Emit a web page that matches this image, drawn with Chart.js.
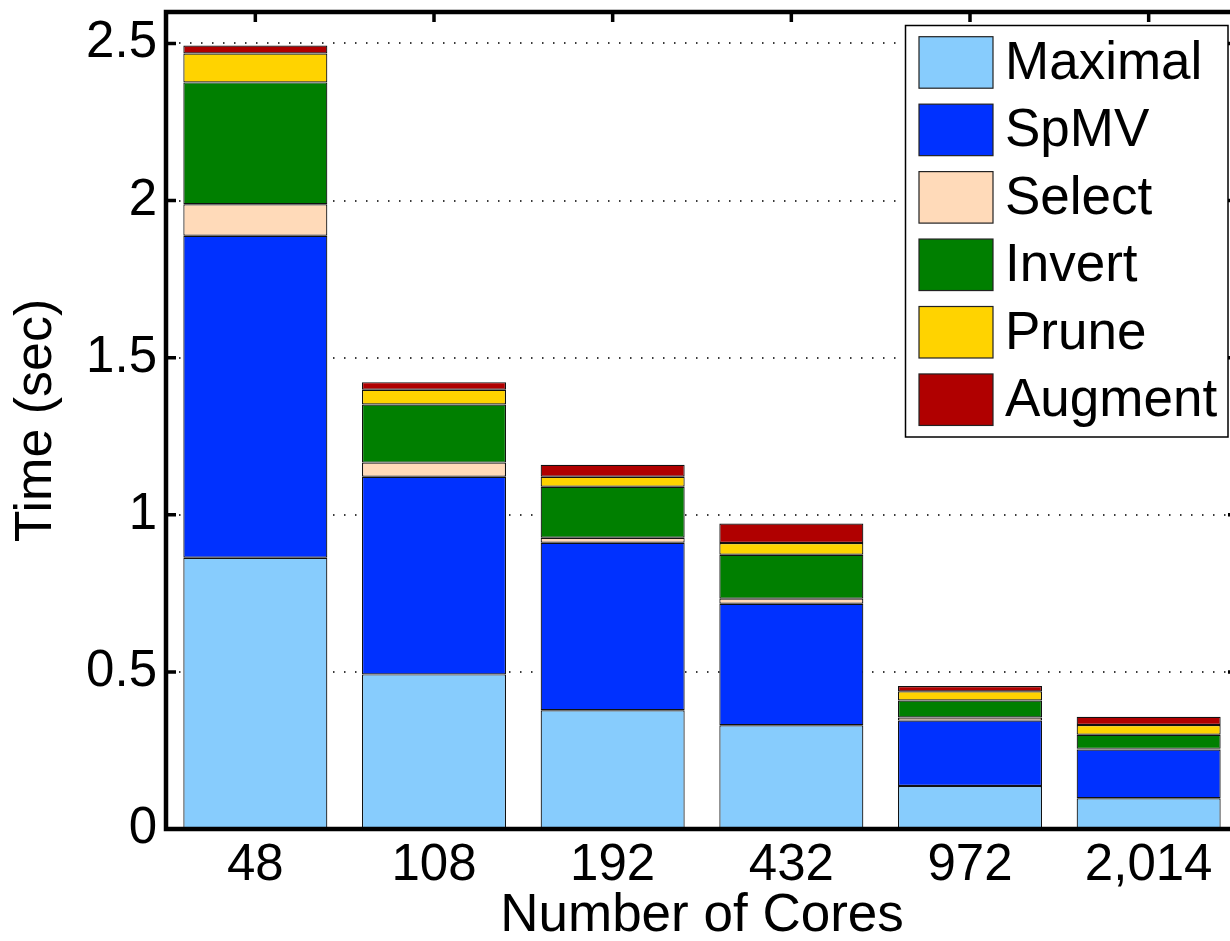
<!DOCTYPE html>
<html>
<head>
<meta charset="utf-8">
<script src="https://cdn.jsdelivr.net/npm/chart.js@4.4.1/dist/chart.umd.min.js"></script>
<style>
  html, body { margin: 0; padding: 0; background: #ffffff; overflow: hidden; }
  #wrap { width: 1250px; height: 941px; }
</style>
</head>
<body>
<div id="wrap"><canvas id="c" width="1250" height="941"></canvas></div>
<script>
// Number of cores on the x axis
const categories = ['48', '108', '192', '432', '972', '2,014'];

// Time per phase, in seconds
const maximal = [0.863, 0.492, 0.378, 0.330, 0.137, 0.098];
const spmv    = [1.025, 0.629, 0.533, 0.387, 0.208, 0.155];
const select  = [0.100, 0.045, 0.016, 0.016, 0.010, 0.002];
const invert  = [0.388, 0.185, 0.162, 0.140, 0.054, 0.045];
const prune   = [0.092, 0.047, 0.032, 0.037, 0.029, 0.031];
const augment = [0.025, 0.024, 0.038, 0.062, 0.017, 0.026];

const yTicks = [0, 0.5, 1, 1.5, 2, 2.5];
const yTickLabels = ['0', '0.5', '1', '1.5', '2', '2.5'];

const FONT = "'Liberation Sans', Arial, Helvetica, sans-serif";

const series = [
  { label: 'Maximal', data: maximal, color: '#87CCFD' },
  { label: 'SpMV',    data: spmv,    color: '#0031FF' },
  { label: 'Select',  data: select,  color: '#FFDAB9' },
  { label: 'Invert',  data: invert,  color: '#007F00' },
  { label: 'Prune',   data: prune,   color: '#FFD300' },
  { label: 'Augment', data: augment, color: '#B00000' }
];

// Dotted grid, inward tick marks, heavy frame and boxed legend
const decorations = {
  id: 'decorations',
  beforeDatasetsDraw(chart) {
    const { ctx, chartArea: a, scales } = chart;
    const y = scales.y, x = scales.x;
    ctx.save();
    // dotted horizontal grid lines
    ctx.strokeStyle = '#3a3a3a';
    ctx.lineWidth = 2;
    ctx.setLineDash([1.5, 9.5]);
    yTicks.forEach(v => {
      if (v === 0) return;
      const py = Math.round(y.getPixelForValue(v));
      ctx.beginPath();
      ctx.moveTo(a.left + 2, py);
      ctx.lineTo(a.right, py);
      ctx.stroke();
    });
    ctx.setLineDash([]);
    // tick marks pointing into the plot
    ctx.strokeStyle = '#000';
    ctx.lineWidth = 3.5;
    const tl = 10;
    yTicks.forEach(v => {
      const py = y.getPixelForValue(v);
      ctx.beginPath();
      ctx.moveTo(a.left, py); ctx.lineTo(a.left + tl, py);
      ctx.moveTo(a.right, py); ctx.lineTo(a.right - tl, py);
      ctx.stroke();
    });
    categories.forEach((c, i) => {
      const px = x.getPixelForValue(i);
      ctx.beginPath();
      ctx.moveTo(px, a.top); ctx.lineTo(px, a.top + tl);
      ctx.moveTo(px, a.bottom); ctx.lineTo(px, a.bottom - tl);
      ctx.stroke();
    });
    ctx.restore();
  },
  afterDatasetsDraw(chart) {
    const { ctx, chartArea: a } = chart;
    ctx.save();
    ctx.strokeStyle = '#000';
    ctx.lineWidth = 4.5;
    ctx.strokeRect(a.left, a.top, a.right - a.left, a.bottom - a.top);
    ctx.restore();
  },
  afterDraw(chart) {
    const { ctx } = chart;
    const box = { x: 905.5, y: 25.5, w: 322.5, h: 411.5 };
    ctx.save();
    ctx.fillStyle = '#fff';
    ctx.fillRect(box.x, box.y, box.w, box.h);
    ctx.strokeStyle = '#000';
    ctx.lineWidth = 1.5;
    ctx.strokeRect(box.x, box.y, box.w, box.h);
    ctx.font = '53px ' + FONT;
    ctx.textBaseline = 'middle';
    ctx.textAlign = 'left';
    chart.data.datasets.forEach((ds, i) => {
      const sy = 36.7 + i * 67.45;
      ctx.fillStyle = ds.backgroundColor;
      ctx.fillRect(919, sy, 74, 51.5);
      ctx.lineWidth = 1.2;
      ctx.strokeStyle = '#222';
      ctx.strokeRect(919, sy, 74, 51.5);
      ctx.fillStyle = '#000';
      ctx.fillText(ds.label, 1005, sy + 27.5);
    });
    ctx.restore();
  }
};

new Chart(document.getElementById('c'), {
  type: 'bar',
  data: {
    labels: categories,
    datasets: series.map(s => ({
      label: s.label,
      data: s.data,
      backgroundColor: s.color,
      borderColor: '#111',
      borderWidth: 1.2,
      borderSkipped: false,
      categoryPercentage: 1.0,
      barPercentage: 0.806
    }))
  },
  options: {
    responsive: false,
    animation: false,
    devicePixelRatio: 1,
    layout: { padding: { top: 12, right: 12, bottom: 0, left: 0 } },
    plugins: { legend: { display: false }, tooltip: { enabled: false } },
    scales: {
      x: {
        stacked: true,
        grid: { display: false, drawTicks: false },
        border: { display: false },
        ticks: { color: '#000', padding: 6, font: { family: FONT, size: 51 } },
        title: {
          display: true, text: 'Number of Cores', color: '#000',
          font: { family: FONT, size: 53, lineHeight: 1.0 },
          padding: { top: 0, bottom: -2 }
        },
        afterFit(scale) {
          scale.height = 112;
          scale.paddingLeft = 0; scale.paddingRight = 0;
        }
      },
      y: {
        stacked: true,
        min: 0, max: 2.6,
        grid: { display: false, drawTicks: false },
        border: { display: false },
        afterBuildTicks(scale) { scale.ticks = yTicks.map(v => ({ value: v })); },
        ticks: {
          color: '#000', padding: 9,
          font: { family: FONT, size: 51 },
          callback: (v) => { const k = yTicks.indexOf(v); return k >= 0 ? yTickLabels[k] : ''; }
        },
        title: {
          display: true, text: 'Time (sec)', color: '#000',
          font: { family: FONT, size: 52, lineHeight: 1.2 },
          padding: { top: 5, bottom: 0 }
        },
        afterFit(scale) {
          scale.width = 166;
          scale.paddingTop = 0; scale.paddingBottom = 0;
        }
      }
    }
  },
  plugins: [decorations]
});
</script>
</body>
</html>
